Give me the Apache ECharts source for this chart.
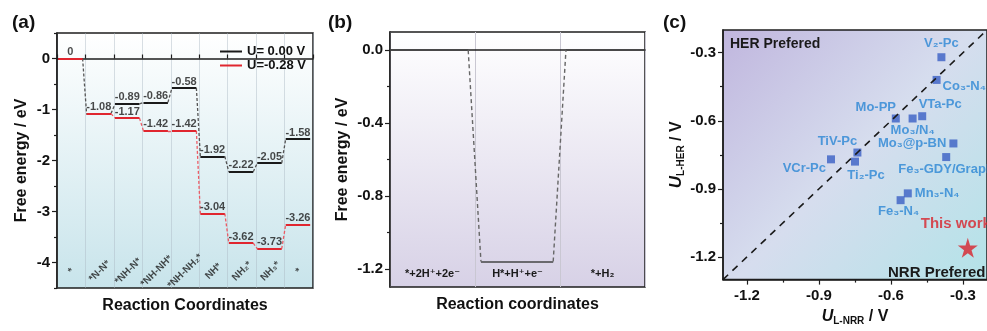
<!DOCTYPE html>
<html><head><meta charset="utf-8">
<script src="https://cdn.jsdelivr.net/npm/echarts@6/dist/echarts.min.js"></script>
<style>html,body{margin:0;padding:0;background:#fff}#c{width:987px;height:331px}</style>
</head><body><div id="c"></div>
<script>
// ---------- Panel (a) data ----------
const statesA = ['*', '*N-N*', '*NH-N*', '*NH-NH*', '*NH-NH₂*', 'NH*', 'NH₂*', 'NH₃*', '*'];
const energyU0 = [0, -1.08, -0.89, -0.86, -0.58, -1.92, -2.22, -2.05, -1.58];
const energyU028 = [0, -1.08, -1.17, -1.42, -1.42, -3.04, -3.62, -3.73, -3.26];
const ticksA = [0, -1, -2, -3, -4];
const minorTicksA = [0.5, -0.5, -1.5, -2.5, -3.5, -4.5];

// ---------- Panel (b) data ----------
const statesB = ['*+2H⁺+2e⁻', 'H*+H⁺+e⁻', '*+H₂'];
const energyB = [0, -1.16, 0];
const ticksB = [0, -0.4, -0.8, -1.2];
const minorTicksB = [-0.2, -0.6, -1.0];

// ---------- Panel (c) data ----------
const catalysts = ['V₂-Pc', 'Co₃-N₄', 'Mo-PP', 'VTa-Pc', 'Mo₃/N₄', 'Mo₃@p-BN', 'Fe₃-GDY/Graphene', 'TiV-Pc', 'Ti₂-Pc', 'VCr-Pc', 'Mn₃-N₄', 'Fe₃-N₄'];
const ulNRR = [-0.39, -0.41, -0.58, -0.47, -0.51, -0.34, -0.37, -0.74, -0.75, -0.85, -0.53, -0.56];
const ulHER = [-0.32, -0.42, -0.59, -0.58, -0.59, -0.70, -0.76, -0.74, -0.78, -0.77, -0.92, -0.95];
const thisWorkName = ['This work'];
const thisWorkNRR = [-0.28];
const thisWorkHER = [-1.16];
const ticksC = [-1.2, -0.9, -0.6, -0.3];
const minorTicksC = [-1.05, -0.75, -0.45];
const rangeC = [-1.3, -0.2];

// ---------- styles ----------
const FONT = 'Liberation Sans, Arial, DejaVu Sans, sans-serif';
const AX = '#1e1e1e';
const labelStyleC = {
  'V₂-Pc': {position: 'top', distance: 3},
  'Co₃-N₄': {position: 'right', distance: 2, offset: [0, 7]},
  'Mo-PP': {position: 'top', distance: 1, offset: [-20, 0]},
  'VTa-Pc': {position: 'top', distance: 1, offset: [18, 0]},
  'Mo₃/N₄': {position: 'bottom', distance: 1},
  'Mo₃@p-BN': {position: 'left', distance: 3},
  'Fe₃-GDY/Graphene': {position: 'bottom', distance: 2, offset: [11, 0]},
  'TiV-Pc': {position: 'top', distance: 1, offset: [-20, 0]},
  'Ti₂-Pc': {position: 'bottom', distance: 3, offset: [11, 0]},
  'VCr-Pc': {position: 'left', distance: 1, offset: [0, 9]},
  'Mn₃-N₄': {position: 'right', distance: 3},
  'Fe₃-N₄': {position: 'bottom', distance: 1, offset: [-2, 0]}
};

const chart = echarts.init(document.getElementById('c'), null, {renderer: 'canvas'});
const G = echarts.graphic.LinearGradient;

function fmt1(v) { return (Math.round(v * 10) / 10).toFixed(1); }

function mainY(grid, min, max, labels, name, nameGap, fmtFn) {
  return {
    type: 'value', gridIndex: grid, min: min, max: max, position: 'left',
    axisLine: {show: true, lineStyle: {color: AX, width: 1.5}},
    axisTick: {show: true, length: 5, customValues: labels, lineStyle: {color: AX, width: 1.2}},
    axisLabel: {show: true, customValues: labels, formatter: fmtFn, margin: 7,
      fontFamily: FONT, fontWeight: 'bold', fontSize: 15, color: '#111'},
    splitLine: {show: false},
    name: name, nameLocation: 'middle', nameGap: nameGap,
    nameTextStyle: {fontFamily: FONT, fontWeight: 'bold', fontSize: 16, color: '#111'}
  };
}
function minorY(grid, min, max, vals) {
  return {
    type: 'value', gridIndex: grid, min: min, max: max, position: 'left',
    axisLine: {show: false},
    axisTick: {show: true, length: 3, customValues: vals, lineStyle: {color: AX, width: 1.2}},
    axisLabel: {show: false}, splitLine: {show: false}
  };
}

// (a) segments
const levelsU0 = energyU0.map((e, i) => ({coords: [[i + 0.04, e], [i + 0.9, e]]}));
const levelsU028 = energyU028.map((e, i) => ({coords: [[i + 0.04, e], [i + 0.9, e]]}));
const connU0 = [];
const connU028 = [];
for (let i = 0; i < energyU0.length - 1; i++) {
  connU0.push({coords: [[i + 0.9, energyU0[i]], [i + 1.04, energyU0[i + 1]]]});
  if (energyU028[i] !== energyU0[i] || energyU028[i + 1] !== energyU0[i + 1]) {
    connU028.push({coords: [[i + 0.9, energyU028[i]], [i + 1.04, energyU028[i + 1]]]});
  }
}
const labU0 = energyU0.map((e, i) => ({value: [i + 0.47, e], txt: e === 0 ? '0' : e.toFixed(2)}));
const labU028 = [];
energyU028.forEach((e, i) => { if (e !== energyU0[i]) labU028.push({value: [i + 0.47, e], txt: e.toFixed(2)}); });

// (b) segments
const nB = energyB.length;
const startB = i => (i === 0 ? 0 : i + 0.07);
const endB = i => (i === nB - 1 ? nB : i + 0.92);
const levelsB = energyB.map((e, i) => ({coords: [[startB(i), e], [endB(i), e]]}));
const connB = [];
for (let i = 0; i < nB - 1; i++) connB.push({coords: [[endB(i), energyB[i]], [startB(i + 1), energyB[i + 1]]]});

const numLabelStyle = {show: true, position: 'top', distance: 1, fontFamily: FONT, fontWeight: 'bold',
  fontSize: 11, color: '#1a1a1a', formatter: p => p.data.txt};

const option = {
  animation: false,
  grid: [
    {left: 57, top: 33, width: 256, height: 255, show: true, borderColor: AX, borderWidth: 1.5,
      backgroundColor: new G(0, 0, 0, 1, [{offset: 0, color: '#ffffff'}, {offset: 1, color: '#c8e4eb'}])},
    {left: 390, top: 32, width: 255, height: 255, show: true, borderColor: AX, borderWidth: 1.5,
      backgroundColor: new G(0, 0, 0, 1, [{offset: 0, color: '#ffffff'}, {offset: 1, color: '#d7d1e6'}])},
    {left: 723, top: 30, width: 270, height: 255, show: true, borderColor: AX, borderWidth: 1.5,
      backgroundColor: new G(0, 0, 1, 1, [{offset: 0, color: '#c0b6de'}, {offset: 0.5, color: '#d6ddee'}, {offset: 1, color: '#b3e3e8'}])}
  ],
  legend: {
    left: 215, top: 40, orient: 'vertical', itemWidth: 22, itemHeight: 2, itemGap: 1,
    itemStyle: {borderWidth: 0},
    textStyle: {fontFamily: FONT, fontWeight: 'bold', fontSize: 13, color: '#111'},
    data: [
      {name: 'U= 0.00 V', icon: 'rect', itemStyle: {color: '#1a1a1a', borderWidth: 0}},
      {name: 'U=-0.28 V', icon: 'rect', itemStyle: {color: '#e0262f', borderWidth: 0}}
    ]
  },
  xAxis: [
    { // 0 (a)
      type: 'value', gridIndex: 0, min: 0, max: statesA.length, interval: 1,
      axisLine: {show: true, lineStyle: {color: AX, width: 1.5}},
      axisTick: {show: true, inside: true, length: 4, lineStyle: {color: AX, width: 1.2}},
      axisLabel: {show: false},
      splitLine: {show: true, lineStyle: {color: 'rgba(170,185,195,0.45)', width: 1}},
      name: 'Reaction Coordinates', nameLocation: 'middle', nameGap: 10,
      nameTextStyle: {fontFamily: FONT, fontWeight: 'bold', fontSize: 16, color: '#111', verticalAlign: 'top'}
    },
    { // 1 (b) category
      type: 'category', gridIndex: 1, data: statesB, boundaryGap: true,
      axisLine: {show: true, lineStyle: {color: AX, width: 1.5}},
      axisTick: {show: false},
      axisLabel: {inside: true, margin: 8, fontFamily: FONT, fontWeight: 'bold', fontSize: 11, color: '#1a1a1a'},
      splitLine: {show: true, lineStyle: {color: '#c9c7d2', width: 1}},
      name: 'Reaction coordinates', nameLocation: 'middle', nameGap: 10,
      nameTextStyle: {fontFamily: FONT, fontWeight: 'bold', fontSize: 16, color: '#111', verticalAlign: 'top'}
    },
    { // 2 (b) value for drawing
      type: 'value', gridIndex: 1, min: 0, max: nB, show: false
    },
    { // 3 (c)
      type: 'value', gridIndex: 2, min: rangeC[0], max: rangeC[1], position: 'bottom',
      axisLine: {show: true, lineStyle: {color: AX, width: 1.5}},
      axisTick: {show: true, length: 5, customValues: ticksC, lineStyle: {color: AX, width: 1.2}},
      axisLabel: {show: true, customValues: ticksC, formatter: fmt1, margin: 9,
        fontFamily: FONT, fontWeight: 'bold', fontSize: 15, color: '#111'},
      splitLine: {show: false},
      name: '{i|U}{s|L-NRR}{n| / V}', nameLocation: 'middle', nameGap: 27,
      nameTextStyle: {fontFamily: FONT, fontWeight: 'bold', fontSize: 16, color: '#111', verticalAlign: 'top',
        rich: {
          i: {fontFamily: FONT, fontWeight: 'bold', fontStyle: 'italic', fontSize: 16, color: '#111'},
          s: {fontFamily: FONT, fontWeight: 'bold', fontSize: 10, color: '#111', padding: [9, 0, 0, 0]},
          n: {fontFamily: FONT, fontWeight: 'bold', fontSize: 16, color: '#111'}
        }}
    },
    { // 4 (c) minor
      type: 'value', gridIndex: 2, min: rangeC[0], max: rangeC[1], position: 'bottom',
      axisLine: {show: false},
      axisTick: {show: true, length: 3, customValues: minorTicksC, lineStyle: {color: AX, width: 1.2}},
      axisLabel: {show: false}, splitLine: {show: false}
    }
  ],
  yAxis: [
    mainY(0, -4.5, 0.5, ticksA, 'Free energy / eV', 27, v => String(Math.round(v))),
    minorY(0, -4.5, 0.5, minorTicksA),
    mainY(1, -1.3, 0.1, ticksB, 'Free energy / eV', 39, fmt1),
    minorY(1, -1.3, 0.1, minorTicksB),
    Object.assign(mainY(2, rangeC[0], rangeC[1], ticksC, '{i|U}{s|L-HER}{n| / V}', 37, fmt1), {
      nameTextStyle: {fontFamily: FONT, fontWeight: 'bold', fontSize: 16, color: '#111',
        rich: {
          i: {fontFamily: FONT, fontWeight: 'bold', fontStyle: 'italic', fontSize: 17, color: '#111'},
          s: {fontFamily: FONT, fontWeight: 'bold', fontSize: 10, color: '#111', padding: [9, 0, 0, 0]},
          n: {fontFamily: FONT, fontWeight: 'bold', fontSize: 16, color: '#111'}
        }}
    }),
    minorY(2, rangeC[0], rangeC[1], minorTicksC)
  ],
  series: [
    // ---- (a)
    {type: 'lines', name: 'U= 0.00 V', coordinateSystem: 'cartesian2d', xAxisIndex: 0, yAxisIndex: 0,
      polyline: false, silent: true, data: levelsU0, itemStyle: {color: '#1a1a1a'},
      lineStyle: {color: '#1a1a1a', width: 2, opacity: 1}},
    {type: 'lines', name: 'connU0', coordinateSystem: 'cartesian2d', xAxisIndex: 0, yAxisIndex: 0,
      polyline: false, silent: true, data: connU0,
      lineStyle: {color: '#555', width: 1.3, type: [3, 2], opacity: 1}},
    {type: 'lines', name: 'connU028', coordinateSystem: 'cartesian2d', xAxisIndex: 0, yAxisIndex: 0,
      polyline: false, silent: true, data: connU028,
      lineStyle: {color: '#ec5a64', width: 1.3, type: [3, 2], opacity: 1}},
    {type: 'lines', name: 'U=-0.28 V', coordinateSystem: 'cartesian2d', xAxisIndex: 0, yAxisIndex: 0,
      polyline: false, silent: true, data: levelsU028, itemStyle: {color: '#e0262f'},
      lineStyle: {color: '#e0262f', width: 2, opacity: 1}},
    {type: 'scatter', name: 'labU0', xAxisIndex: 0, yAxisIndex: 0, symbolSize: 0, silent: true,
      data: labU0, label: numLabelStyle},
    {type: 'scatter', name: 'labU028', xAxisIndex: 0, yAxisIndex: 0, symbolSize: 0, silent: true,
      data: labU028, label: numLabelStyle},
    {type: 'scatter', name: 'statesA', xAxisIndex: 0, yAxisIndex: 0, symbolSize: 0, silent: true,
      data: statesA.map((s, i) => ({value: [i + 0.5, -4.17], txt: s})),
      label: {show: true, position: 'inside', rotate: 45, fontFamily: FONT, fontWeight: 'bold',
        fontSize: 10, color: '#1a1a1a', formatter: p => p.data.txt}},
    // ---- (b)
    {type: 'lines', name: 'levelsB', coordinateSystem: 'cartesian2d', xAxisIndex: 2, yAxisIndex: 2,
      polyline: false, silent: true, data: levelsB,
      lineStyle: {color: '#444', width: 1.6, opacity: 1}},
    {type: 'lines', name: 'connB', coordinateSystem: 'cartesian2d', xAxisIndex: 2, yAxisIndex: 2,
      polyline: false, silent: true, data: connB,
      lineStyle: {color: '#666', width: 1.4, type: [4, 3], opacity: 1}},
    // ---- (c)
    {type: 'line', name: 'diag', xAxisIndex: 3, yAxisIndex: 4, symbol: 'none', silent: true,
      data: [[rangeC[0], rangeC[0]], [rangeC[1], rangeC[1]]],
      lineStyle: {color: '#1a1a1a', width: 1.6, type: [7, 6]}},
    {type: 'scatter', name: 'catalysts', xAxisIndex: 3, yAxisIndex: 4, symbol: 'rect', symbolSize: 8,
      silent: true, itemStyle: {color: '#3a5fc4'},
      data: catalysts.map((n, i) => ({
        name: n, value: [ulNRR[i], ulHER[i]],
        label: Object.assign({show: true, formatter: '{b}', fontFamily: FONT, fontWeight: 'bold',
          fontSize: 13, color: '#2a86d4'}, labelStyleC[n])
      }))},
    {type: 'scatter', name: 'thiswork', xAxisIndex: 3, yAxisIndex: 4,
      symbol: 'path://M50,0 L61,35 L98,35 L68,57 L79,91 L50,70 L21,91 L32,57 L2,35 L39,35 Z',
      symbolSize: 20, silent: true, itemStyle: {color: '#d8232c'},
      data: thisWorkName.map((n, i) => ({name: n, value: [thisWorkNRR[i], thisWorkHER[i]]})),
      label: {show: true, formatter: '{b}', position: 'top', distance: 6, offset: [-12, 0],
        fontFamily: FONT, fontWeight: 'bold', fontSize: 15, color: '#d8232c'}}
  ],
  graphic: [
    {type: 'text', left: 12, top: 13, style: {text: '(a)', font: 'bold 19px ' + FONT, fill: '#111'}},
    {type: 'text', left: 328, top: 13, style: {text: '(b)', font: 'bold 19px ' + FONT, fill: '#111'}},
    {type: 'text', left: 663, top: 13, style: {text: '(c)', font: 'bold 19px ' + FONT, fill: '#111'}},
    {type: 'text', left: 730, top: 37, style: {text: 'HER Prefered', font: 'bold 14px ' + FONT, fill: '#1a1a1a'}},
    {type: 'text', left: 888, top: 265, style: {text: 'NRR Prefered', font: 'bold 15px ' + FONT, fill: '#1a1a1a'}}
  ]
};
chart.setOption(option);
</script>
</body></html>
